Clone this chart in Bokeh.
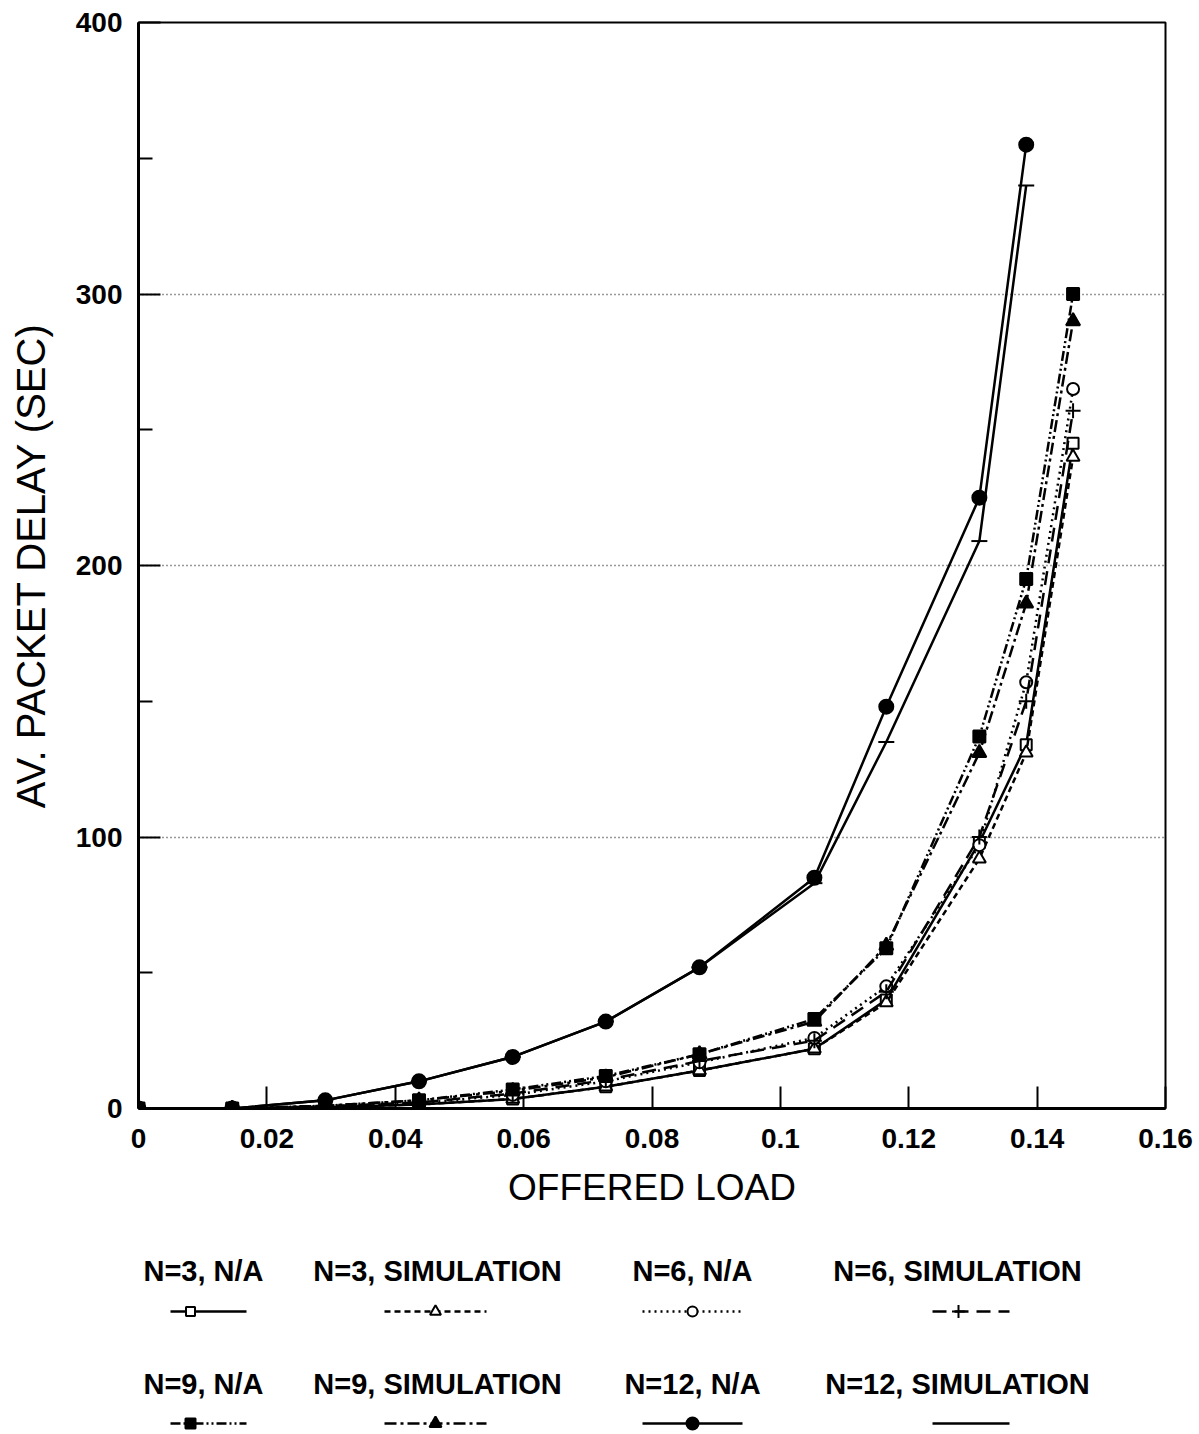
from bokeh.plotting import figure
from bokeh.layouts import column
from bokeh.models import Range1d, FixedTicker
from bokeh.core.properties import value
from bokeh.embed import file_html
from bokeh.resources import INLINE

# ---------------- data ----------------
load = [0, 0.0146, 0.0291, 0.0437, 0.0583, 0.0728, 0.0874, 0.1053, 0.1165, 0.131, 0.1383, 0.1456]

n3_na = [0, 0, 0.5, 1.5, 3.5, 8, 14, 22, 40, 98, 134, 245]
n3_sim = [0, 0, 0.5, 1.5, 3.5, 8, 14, 22, 39, 92, 131, 240]
n6_na = [0, 0, 0.8, 2, 5, 10, 17, 26, 45, 97, 157, 265]
n6_sim = [0, 0, 0.8, 2.2, 5.5, 10.5, 17.5, 25, 43, 100, 150, 257]
n9_na = [0, 0, 1, 3, 7, 12, 20, 33, 59, 137, 195, 300]
n9_sim = [0, 0, 1, 3, 6.5, 11.5, 20, 32, 60, 131, 186, 290]
n12_na = [0, 0, 3, 10, 19, 32, 52, 85, 148, 225, 355]
n12_sim = [0, 0, 3, 10, 19, 32, 52, 83, 135, 209, 340]

series_names = ["N=3, N/A", "N=3, SIMULATION", "N=6, N/A", "N=6, SIMULATION",
                "N=9, N/A", "N=9, SIMULATION", "N=12, N/A", "N=12, SIMULATION"]
series_values = [n3_na, n3_sim, n6_na, n6_sim, n9_na, n9_sim, n12_na, n12_sim]

x_ticks = [0, 0.02, 0.04, 0.06, 0.08, 0.1, 0.12, 0.14, 0.16]
x_tick_labels = ["0", "0.02", "0.04", "0.06", "0.08", "0.1", "0.12", "0.14", "0.16"]
y_ticks = [0, 100, 200, 300, 400]
y_minor_ticks = [50, 150, 250, 350]

# ---------------- styles ----------------
styles = [
    dict(dash="solid", marker="square", fill="white", size=11),
    dict(dash="6 4", marker="triangle", fill="white", size=13),
    dict(dash="2 4", marker="circle", fill="white", size=12),
    dict(dash="14 8", marker="cross", fill="white", size=15),
    dict(dash="10 3 2 3 2 3", marker="square", fill="black", size=12),
    dict(dash="12 4 3 4", marker="triangle", fill="black", size=14),
    dict(dash="solid", marker="circle", fill="black", size=14),
    dict(dash="solid", marker="dash", fill="black", size=16),
]

FONT = value("Liberation Sans")
LEFT, RIGHT = 138, 34

p = figure(width=1199, height=1230, output_backend="svg", toolbar_location=None,
           x_range=Range1d(0, 0.16), y_range=Range1d(0, 400),
           min_border_left=LEFT, min_border_right=RIGHT, min_border_top=22, min_border_bottom=122,
           background_fill_color="white", border_fill_color="white")

for name, vals, st in zip(series_names, series_values, styles):
    xs = load[:len(vals)]
    p.line(xs, vals, line_color="black", line_width=2.5, line_dash=st["dash"])
    p.scatter(xs, vals, marker=st["marker"], size=st["size"], fill_color=st["fill"],
              line_color="black", line_width=2)

# axes
p.xaxis.ticker = FixedTicker(ticks=x_ticks, minor_ticks=[])
p.xaxis.major_label_overrides = {t: l for t, l in zip(x_ticks, x_tick_labels)}
p.yaxis.ticker = FixedTicker(ticks=y_ticks, minor_ticks=y_minor_ticks)
p.xaxis.axis_label = "OFFERED LOAD"
p.yaxis.axis_label = "AV. PACKET DELAY (SEC)"
for ax in (p.xaxis, p.yaxis):
    ax.axis_line_width = 3
    ax.axis_line_color = "black"
    ax.major_tick_in = 22
    ax.major_tick_out = 0
    ax.minor_tick_in = 14
    ax.minor_tick_out = 0
    ax.major_tick_line_width = 2
    ax.minor_tick_line_width = 2
    ax.major_tick_line_color = "black"
    ax.minor_tick_line_color = "black"
    ax.major_label_text_font = "Liberation Sans"
    ax.major_label_text_font_style = "bold"
    ax.major_label_text_font_size = "28px"
    ax.major_label_text_color = "black"
    ax.axis_label_text_font = "Liberation Sans"
    ax.axis_label_text_font_style = "normal"
    ax.axis_label_text_color = "black"
p.xaxis.major_label_standoff = 20
p.yaxis.major_label_standoff = 16
p.xaxis.axis_label_text_font_size = "37px"
p.yaxis.axis_label_text_font_size = "40px"
p.xaxis.axis_label_standoff = 16
p.yaxis.axis_label_standoff = 20

p.xgrid.grid_line_color = None
p.ygrid.ticker = FixedTicker(ticks=[100, 200, 300])
p.ygrid.grid_line_color = "black"
p.ygrid.grid_line_dash = "1 3"
p.ygrid.grid_line_width = 1.3
p.ygrid.grid_line_alpha = 0.8

p.outline_line_color = "black"
p.outline_line_width = 2
p.outline_line_alpha = 1

# ---------------- legend panel (screen-like coordinates) ----------------
leg = figure(width=1199, height=204, output_backend="svg", toolbar_location=None,
             x_range=Range1d(LEFT, 1199 - RIGHT), y_range=Range1d(204, 0),
             x_axis_location=None, y_axis_location=None,
             min_border_left=LEFT, min_border_right=RIGHT, min_border_top=0, min_border_bottom=0,
             background_fill_color="white", border_fill_color="white")
leg.grid.grid_line_color = None
leg.outline_line_color = None

text_centers = [203, 437, 692, 957]
marker_x = [190, 435, 692, 958]
line_spans = [(170, 246), (384, 486), (642, 742), (932, 1009)]
row_text_y = [40, 153]
row_line_y = [81, 193]

for i, (name, st) in enumerate(zip(series_names, styles)):
    r, c = divmod(i, 4)
    leg.text(x=[text_centers[c]], y=[row_text_y[r]], text=[name], text_align="center",
             text_baseline="middle", text_font=FONT, text_font_style="bold",
             text_font_size="29px", text_color="black")
    x0, x1 = line_spans[c]
    leg.line([x0, x1], [row_line_y[r]] * 2, line_color="black", line_width=2.5,
             line_dash=st["dash"])
    if st["marker"] != "dash":
        leg.scatter([marker_x[c]], [row_line_y[r]], marker=st["marker"], size=st["size"] - 2,
                    fill_color=st["fill"], line_color="black", line_width=2)

layout = column(p, leg, spacing=0)
open("out.html", "w").write(file_html(layout, INLINE))
